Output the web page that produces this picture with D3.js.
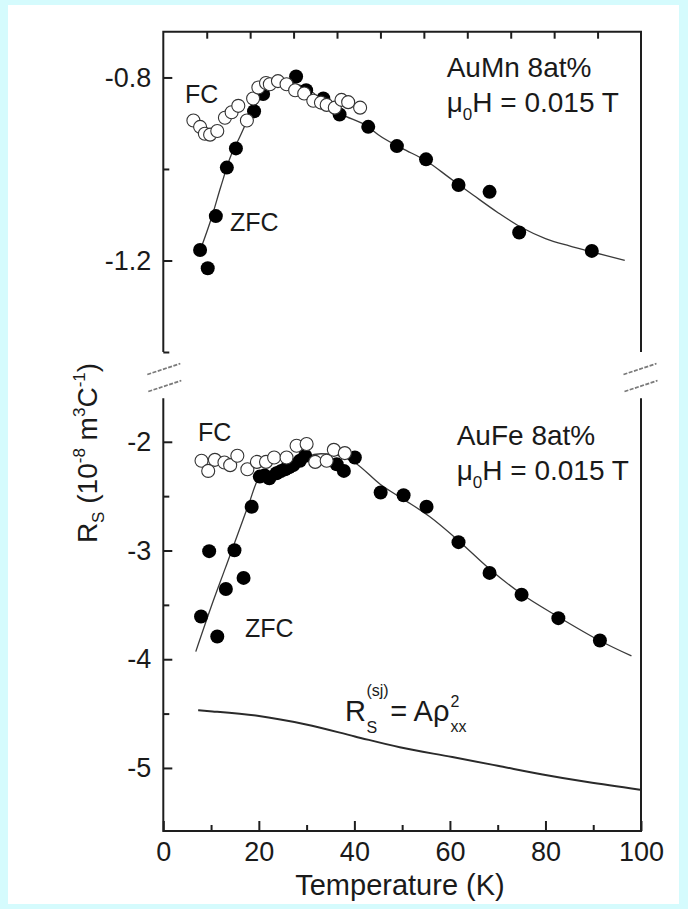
<!DOCTYPE html>
<html>
<head>
<meta charset="utf-8">
<script src="https://cdn.jsdelivr.net/npm/d3@7"></script>
<style>
  html, body { margin: 0; padding: 0; background: #d5fbfd; }
  svg { display: block; }
  text { font-family: "Liberation Sans", Arial, sans-serif; fill: #1a1a1a; }
</style>
</head>
<body>
<svg id="chart" width="688" height="909"></svg>
<script>
// Temperature axis
const tempMajorTicks = [0, 20, 40, 60, 80, 100];
const tempMinorTicks = [10, 30, 50, 70, 90];

// Upper panel (AuMn) axis ticks
const auMnMajorTicks = [-0.8, -1.2];
const auMnMinorTicks = [-1.0, -1.4];

// Lower panel (AuFe) axis ticks
const auFeMajorTicks = [-2, -3, -4, -5];
const auFeMinorTicks = [-2.5, -3.5, -4.5];

// AuMn 8at%: zero-field-cooled points
const auMnZfcT = [7.7, 9.3, 11.0, 13.3, 15.2, 19.0, 20.9, 27.8, 29.9, 33.5, 36.9, 42.9, 48.9, 55.0, 61.8, 68.3, 74.5, 89.7];
const auMnZfcR = [-1.177, -1.217, -1.103, -0.997, -0.955, -0.874, -0.836, -0.798, -0.828, -0.846, -0.881, -0.908, -0.950, -0.979, -1.035, -1.050, -1.139, -1.179];

// AuMn 8at%: field-cooled points
const auMnFcT = [6.3, 7.7, 8.7, 9.8, 11.3, 12.9, 14.3, 15.7, 17.5, 18.8, 19.9, 21.5, 22.3, 24.0, 25.8, 27.6, 29.5, 31.4, 33.0, 34.2, 35.9, 37.3, 38.7, 41.2];
const auMnFcR = [-0.894, -0.908, -0.923, -0.925, -0.917, -0.888, -0.876, -0.862, -0.894, -0.846, -0.822, -0.812, -0.815, -0.808, -0.815, -0.828, -0.835, -0.851, -0.855, -0.860, -0.866, -0.849, -0.854, -0.866];

// AuMn 8at%: fitted curve through the ZFC data
const auMnFitT = [8, 10, 12, 14, 16, 18, 20, 22, 25, 28, 31, 33, 36.9, 42.9, 45, 50, 55, 60, 65, 70, 75, 80, 85, 90, 96.6];
const auMnFitR = [-1.17, -1.11, -1.04, -0.975, -0.93, -0.885, -0.85, -0.828, -0.812, -0.815, -0.83, -0.848, -0.878, -0.908, -0.925, -0.955, -0.982, -1.02, -1.058, -1.095, -1.128, -1.152, -1.168, -1.182, -1.200];

// AuFe 8at%: zero-field-cooled points
const auFeZfcT = [7.9, 9.6, 11.3, 13.1, 14.9, 16.8, 18.5, 20.2, 21.2, 22.2, 23.7, 24.6, 25.5, 26.3, 27.2, 28.6, 29.7, 36.3, 37.8, 40.1, 45.5, 50.3, 55.1, 61.8, 68.3, 75.0, 82.7, 91.4];
const auFeZfcR = [-3.607, -3.006, -3.791, -3.354, -2.997, -3.252, -2.597, -2.320, -2.310, -2.335, -2.289, -2.270, -2.252, -2.235, -2.215, -2.175, -2.129, -2.206, -2.268, -2.144, -2.467, -2.492, -2.597, -2.923, -3.206, -3.406, -3.622, -3.828];

// AuFe 8at%: field-cooled points
const auFeFcT = [8.0, 9.4, 10.8, 12.8, 14.0, 15.5, 17.6, 19.6, 21.5, 23.2, 25.8, 27.9, 30.0, 31.8, 34.2, 35.7, 38.0];
const auFeFcR = [-2.175, -2.268, -2.166, -2.190, -2.215, -2.129, -2.252, -2.185, -2.185, -2.144, -2.144, -2.037, -2.021, -2.185, -2.175, -2.074, -2.104];

// AuFe 8at%: fitted curve through the ZFC data
const auFeFitT = [6.8, 10, 13, 16, 18, 19.9, 22, 25, 28, 30, 33, 36, 40, 45.4, 50.3, 55.8, 61.8, 68.3, 75, 82.7, 91.4, 98];
const auFeFitR = [-3.93, -3.52, -3.16, -2.80, -2.56, -2.345, -2.30, -2.25, -2.19, -2.14, -2.11, -2.12, -2.19, -2.39, -2.53, -2.69, -2.91, -3.17, -3.40, -3.61, -3.83, -3.97];

// Skew-scattering contribution R_S^(sj) = A rho_xx^2
const sjT = [7.3, 10.3, 19.7, 29.9, 40.1, 49.5, 60.5, 70, 79.4, 88.8, 99.8];
const sjR = [-4.47, -4.48, -4.52, -4.60, -4.71, -4.81, -4.90, -4.98, -5.06, -5.13, -5.20];

const zip = (xs, ys) => xs.map((x, i) => ({ t: x, r: ys[i] }));

const svg = d3.select("#chart");
const font = '"Liberation Sans", Arial, sans-serif';

// page panel
svg.append("rect").attr("x", 8).attr("y", 5).attr("width", 671).attr("height", 899).attr("fill", "#ffffff");

const xLeft = 163.3, xRight = 641;
const x = d3.scaleLinear().domain([0, 100]).range([xLeft, xRight]);
const yTop = d3.scaleLinear().domain([-1.4, -0.7]).range([352, 31.7]);
const yBot = d3.scaleLinear().domain([-5.58, -1.6]).range([831, 398.3]);
// the upper frame edge carries eleven equal divisions
const topEdge = d3.scaleLinear().domain([0, 11]).range([xLeft, xRight]);

const axisColor = "#1e1e1e";
const frame = svg.append("g").attr("stroke", axisColor).attr("stroke-width", 2).attr("fill", "none");
// upper panel: left, top, right
frame.append("path").attr("d", `M${xLeft},${yTop.range()[0]}V${yTop.range()[1]}H${xRight}V${yTop.range()[0]}`);
// lower panel: left, bottom, right
frame.append("path").attr("d", `M${xLeft},${yBot.range()[1]}V${yBot.range()[0]}H${xRight}V${yBot.range()[1]}`);

function styleAxis(g) {
  g.select(".domain").remove();
  g.selectAll(".tick line").attr("stroke", axisColor).attr("stroke-width", 2);
  g.selectAll(".tick text").attr("font-family", font).attr("font-size", 27).attr("fill", "#1a1a1a");
}
const fmt = d => String(d);

// upper panel y axis
svg.append("g").attr("transform", `translate(${xLeft},0)`)
  .call(d3.axisLeft(yTop).tickValues(auMnMajorTicks).tickSize(-9).tickSizeOuter(0).tickPadding(12).tickFormat(fmt))
  .call(styleAxis);
svg.append("g").attr("transform", `translate(${xLeft},0)`)
  .call(d3.axisLeft(yTop).tickValues(auMnMinorTicks).tickSize(-6).tickSizeOuter(0).tickFormat(""))
  .call(styleAxis);
// upper frame edge ticks
svg.append("g").attr("transform", `translate(0,${yTop.range()[1]})`)
  .call(d3.axisTop(topEdge).tickValues(d3.range(1, 11)).tickSize(-7).tickSizeOuter(0).tickFormat(""))
  .call(styleAxis);

// lower panel y axis
svg.append("g").attr("transform", `translate(${xLeft},0)`)
  .call(d3.axisLeft(yBot).tickValues(auFeMajorTicks).tickSize(-9).tickSizeOuter(0).tickPadding(12).tickFormat(fmt))
  .call(styleAxis);
svg.append("g").attr("transform", `translate(${xLeft},0)`)
  .call(d3.axisLeft(yBot).tickValues(auFeMinorTicks).tickSize(-6).tickSizeOuter(0).tickFormat(""))
  .call(styleAxis);

// temperature axis
svg.append("g").attr("transform", `translate(0,${yBot.range()[0]})`)
  .call(d3.axisBottom(x).tickValues(tempMajorTicks).tickSize(-10).tickSizeOuter(0).tickPadding(11).tickFormat(fmt))
  .call(styleAxis);
svg.append("g").attr("transform", `translate(0,${yBot.range()[0]})`)
  .call(d3.axisBottom(x).tickValues(tempMinorTicks).tickSize(-6).tickSizeOuter(0).tickFormat(""))
  .call(styleAxis);

// axis break marks
const breaks = svg.append("g").attr("stroke", "#7a7a7a").attr("stroke-width", 1.8).attr("stroke-dasharray", "4 1.5").attr("fill", "none");
[[xLeft, 0], [xRight, -1.5]].forEach(([bx, off]) => {
  breaks.append("line").attr("x1", bx - 16 + off).attr("y1", 374.5).attr("x2", bx + 17 + off).attr("y2", 363.5);
  breaks.append("line").attr("x1", bx - 15 + off).attr("y1", 391.5).attr("x2", bx + 18 + off).attr("y2", 380.5);
});

// curves
const lineTop = d3.line().x(d => x(d.t)).y(d => yTop(d.r)).curve(d3.curveMonotoneX);
const lineBot = d3.line().x(d => x(d.t)).y(d => yBot(d.r)).curve(d3.curveMonotoneX);
svg.append("path").datum(zip(auMnFitT, auMnFitR)).attr("d", lineTop)
  .attr("fill", "none").attr("stroke", "#3a3a3a").attr("stroke-width", 1.3);
svg.append("path").datum(zip(auFeFitT, auFeFitR)).attr("d", lineBot)
  .attr("fill", "none").attr("stroke", "#3a3a3a").attr("stroke-width", 1.3);
svg.append("path").datum(zip(sjT, sjR)).attr("d", lineBot)
  .attr("fill", "none").attr("stroke", "#2a2a2a").attr("stroke-width", 2);

// points
function filled(data, y) {
  svg.append("g").selectAll("circle").data(data).join("circle")
    .attr("cx", d => x(d.t)).attr("cy", d => y(d.r)).attr("r", 7).attr("fill", "#000");
}
function open(data, y) {
  svg.append("g").selectAll("circle").data(data).join("circle")
    .attr("cx", d => x(d.t)).attr("cy", d => y(d.r)).attr("r", 6.5)
    .attr("fill", "#fff").attr("stroke", "#333").attr("stroke-width", 1.1);
}
filled(zip(auMnZfcT, auMnZfcR), yTop);
open(zip(auMnFcT, auMnFcR), yTop);
filled(zip(auFeZfcT, auFeZfcR), yBot);
open(zip(auFeFcT, auFeFcR), yBot);

// labels
function label(txt, lx, ly, size) {
  return svg.append("text").attr("x", lx).attr("y", ly).attr("font-size", size).text(txt);
}
label("FC", 185, 103, 25);
label("ZFC", 230, 231, 25);
label("FC", 198, 441, 25);
label("ZFC", 245, 637, 25);

function fieldLabel(lx, ly) {
  const t = svg.append("text").attr("x", lx).attr("y", ly).attr("font-size", 28);
  t.append("tspan").text("\u03bc");
  t.append("tspan").attr("font-size", 17).attr("dy", 8).text("0");
  t.append("tspan").attr("dy", -8).text("H = 0.015 T");
}
label("AuMn 8at%", 446.7, 77, 28);
fieldLabel(446.7, 112);
label("AuFe 8at%", 456.7, 445, 28);
fieldLabel(456.7, 480);

// R_S^(sj) = A rho_xx^2
{
  const bx = 345, by = 721;
  const r = label("R", bx, by, 29);
  const rw = r.node().getComputedTextLength();
  const sup = label("(sj)", bx + rw + 0.5, by - 25, 16);
  const sub = label("S", bx + rw + 0.5, by + 12, 16);
  const w1 = Math.max(sup.node().getComputedTextLength(), sub.node().getComputedTextLength());
  const eq = label("= A\u03c1", bx + rw + w1 + 2, by, 29);
  const ew = eq.node().getComputedTextLength();
  label("2", bx + rw + w1 + 2 + ew + 1, by - 14, 16);
  label("xx", bx + rw + w1 + 2 + ew + 1, by + 11, 16);
}

// axis titles
svg.append("text").attr("x", 400).attr("y", 895).attr("text-anchor", "middle").attr("font-size", 29).text("Temperature (K)");
{
  const t = svg.append("text").attr("transform", "translate(97,453) rotate(-90)")
    .attr("text-anchor", "middle").attr("font-size", 28);
  t.append("tspan").text("R");
  t.append("tspan").attr("font-size", 17).attr("dy", 7).text("S");
  t.append("tspan").attr("dy", -7).text(" (10");
  t.append("tspan").attr("font-size", 17).attr("dy", -12).text("-8");
  t.append("tspan").attr("dy", 12).text(" m");
  t.append("tspan").attr("font-size", 17).attr("dy", -12).text("3");
  t.append("tspan").attr("dy", 12).text("C");
  t.append("tspan").attr("font-size", 17).attr("dy", -12).text("-1");
  t.append("tspan").attr("dy", 12).text(")");
}
</script>
</body>
</html>
